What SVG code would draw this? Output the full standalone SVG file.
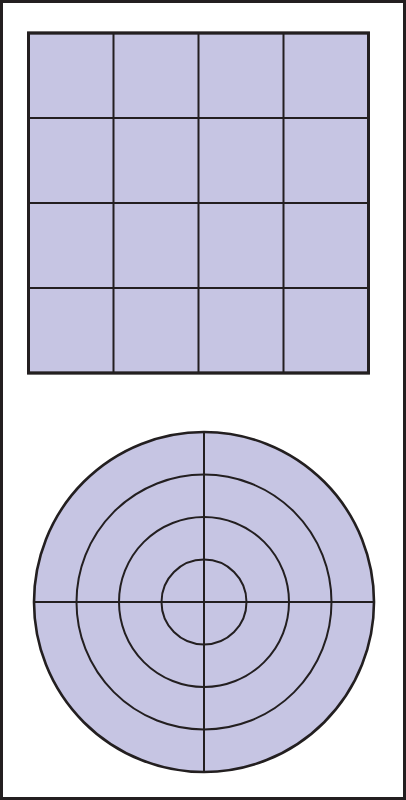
<svg xmlns="http://www.w3.org/2000/svg" width="406" height="800" viewBox="0 0 406 800">
<style>
.fill{fill:#c6c5e3;stroke:#231f20;stroke-width:2.6}
.ln{fill:none;stroke:#231f20;stroke-width:2}
</style>
<rect x="0" y="0" width="406" height="800" fill="#fff"/>
<rect x="1.5" y="1.5" width="403" height="797" fill="none" stroke="#231f20" stroke-width="3"/>
<g id="grid">
<rect class="fill" x="28.5" y="33" width="340" height="340"/>
<path class="ln" d="M113.5 33V373M198.5 33V373M283.5 33V373M28.5 118H368.5M28.5 203H368.5M28.5 288H368.5"/>
<rect x="28.5" y="33" width="340" height="340" fill="none" stroke="#231f20" stroke-width="3"/>
</g>
<g id="target">
<circle class="fill" cx="204" cy="602" r="170"/>
<circle class="ln" cx="204" cy="602" r="127.5"/>
<circle class="ln" cx="204" cy="602" r="85"/>
<circle class="ln" cx="204" cy="602" r="42.5"/>
<path class="ln" d="M204 432V772M34 602H374"/>
</g>
</svg>
